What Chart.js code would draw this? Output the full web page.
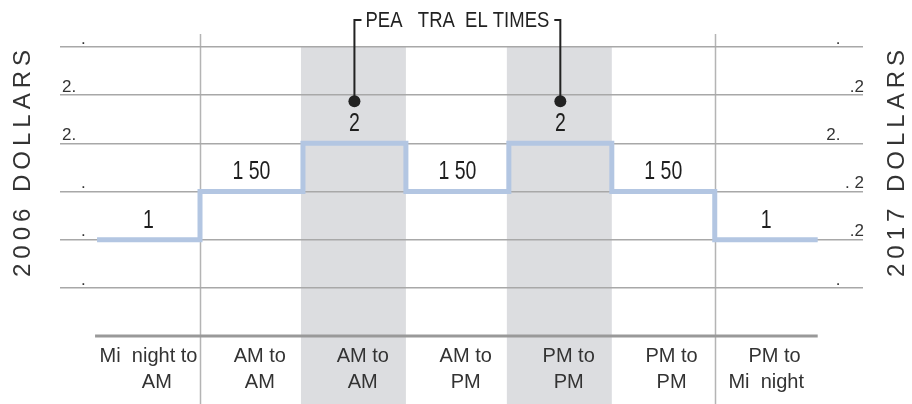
<!DOCTYPE html>
<html>
<head>
<meta charset="utf-8">
<script src="https://cdn.jsdelivr.net/npm/chart.js@4.4.1/dist/chart.umd.min.js"></script>
<style>
  html, body { margin: 0; padding: 0; background: #fff; }
  #wrap { width: 912px; height: 404px; }
</style>
</head>
<body>
<div id="wrap"><canvas id="c" width="912" height="404"></canvas></div>
<script>
// time blocks (glyphs missing in the source are kept as gaps)
const periods = [
  ["Mi  night to", "   AM"],
  ["   AM to", "   AM"],
  ["   AM to", "   AM"],
  ["   AM to", "   PM"],
  ["   PM to", "   PM"],
  ["   PM to", "   PM"],
  ["   PM to", "Mi  night"]
];
const fares = [1, 1.5, 2, 1.5, 2, 1.5, 1];
const fareLabels = ["1", "1 50", "2", "1 50", "2", "1 50", "1"];
const peakPeriods = [2, 4];
const dividerAt = [1, 6];
const peakTitle = "PEA   TRA  EL TIMES";

const dollarTicks = [0.5, 1, 1.5, 2, 2.5, 3];
const labels2006 = ["    .", "    .", "    .", "2.", "2.", "    ."];
const labels2017 = [".     ", ".2", ". 2", "2.     ", ".2", ".     "];
const title2006 = "2006 DOLLARS";
const title2017 = "2017 DOLLARS";

// step points: each fare holds over its whole block
const stepPoints = fares.map((v, i) => ({ x: i, y: v }));
stepPoints.push({ x: fares.length, y: fares[fares.length - 1] });

const SANS = "'Liberation Sans', Arial, sans-serif";

// narrow text: no condensed face is installed, so squeeze horizontally
function narrowText(ctx, text, cx, cy, sx) {
  ctx.save();
  ctx.translate(cx, cy);
  ctx.scale(sx, 1);
  ctx.fillText(text, 0, 0);
  ctx.restore();
}

const decor = {
  id: "decor",
  beforeDraw(chart) {
    const { ctx, chartArea, scales: { x } } = chart;
    ctx.save();
    ctx.fillStyle = "#fff";
    ctx.fillRect(0, 0, chart.width, chart.height);
    // peak shading
    ctx.fillStyle = "#dcdde0";
    peakPeriods.forEach(p => {
      const x0 = x.getPixelForValue(p) - 2;
      const x1 = x.getPixelForValue(p + 1);
      ctx.fillRect(x0, chartArea.top, x1 - x0, chart.height - chartArea.top);
    });
    // dividers
    ctx.strokeStyle = "#b4b4b4";
    ctx.lineWidth = 1.5;
    dividerAt.forEach(d => {
      const px = Math.round(x.getPixelForValue(d)) + 0.5;
      ctx.beginPath();
      ctx.moveTo(px, chartArea.top - 13);
      ctx.lineTo(px, chart.height);
      ctx.stroke();
    });
    ctx.restore();
  },
  beforeDatasetsDraw(chart) {
    const { ctx, scales: { x, y } } = chart;
    ctx.save();
    ctx.strokeStyle = "#999";
    ctx.lineWidth = 3;
    const by = y.getPixelForValue(0);
    ctx.beginPath();
    ctx.moveTo(x.getPixelForValue(0) - 2, by);
    ctx.lineTo(x.getPixelForValue(fares.length), by);
    ctx.stroke();
    ctx.restore();
  },
  afterDraw(chart) {
    const { ctx, scales: { x, y } } = chart;
    ctx.save();
    // fare labels
    ctx.fillStyle = "#1e1e1e";
    ctx.font = "25px " + SANS;
    ctx.textAlign = "center";
    ctx.textBaseline = "middle";
    fares.forEach((v, i) => {
      narrowText(ctx, fareLabels[i], x.getPixelForValue(i + 0.5), y.getPixelForValue(v) - 19, 0.78);
    });

    // peak bracket
    const dots = peakPeriods.map(p => ({
      px: x.getPixelForValue(p + 0.5),
      py: y.getPixelForValue(fares[p]) - 42
    }));
    const top = 20;
    ctx.font = "22px " + SANS;
    const sx = 0.84;
    const mid = (dots[0].px + dots[1].px) / 2;
    const w = ctx.measureText(peakTitle).width * sx;
    ctx.fillStyle = "#222";
    narrowText(ctx, peakTitle, mid, top + 1, sx);
    ctx.strokeStyle = "#222";
    ctx.lineWidth = 2;
    ctx.beginPath();
    ctx.moveTo(dots[0].px, dots[0].py);
    ctx.lineTo(dots[0].px, top);
    ctx.lineTo(mid - w / 2 - 4, top);
    ctx.moveTo(mid + w / 2 + 5, top);
    ctx.lineTo(dots[1].px, top);
    ctx.lineTo(dots[1].px, dots[1].py);
    ctx.stroke();
    dots.forEach(d => {
      ctx.beginPath();
      ctx.arc(d.px, d.py, 6, 0, Math.PI * 2);
      ctx.fill();
    });

    // axis titles
    ctx.font = "24px " + SANS;
    ctx.fillStyle = "#333";
    ctx.letterSpacing = "5px";
    [[23, title2006], [897, title2017]].forEach(([tx, t]) => {
      ctx.save();
      ctx.translate(tx, 163);
      ctx.rotate(-Math.PI / 2);
      ctx.fillText(t, 2, 0);
      ctx.restore();
    });
    ctx.restore();
  }
};

new Chart(document.getElementById("c"), {
  type: "line",
  data: {
    datasets: [{
      data: stepPoints,
      stepped: "before",
      borderColor: "#b3c6e2",
      borderWidth: 5,
      pointRadius: 0,
      borderJoinStyle: "miter",
      borderCapStyle: "butt",
      fill: false
    }]
  },
  options: {
    responsive: false,
    animation: false,
    devicePixelRatio: 1,
    layout: { padding: { top: 47, left: 56, right: 47, bottom: 2 } },
    plugins: { legend: { display: false }, tooltip: { enabled: false } },
    scales: {
      x: {
        type: "linear",
        min: -0.36,
        max: 7.44,
        afterBuildTicks: axis => {
          axis.ticks = periods.map((p, i) => ({ value: i + 0.5 }));
        },
        grid: { display: false, drawTicks: false },
        border: { display: false },
        ticks: {
          padding: 7,
          color: "#333",
          font: { family: SANS, size: 20, lineHeight: 1.3 },
          maxRotation: 0,
          autoSkip: false,
          callback: (v) => {
            const i = Math.floor(v);
            return periods[i] || "";
          }
        }
      },
      y: {
        position: "left",
        min: 0,
        max: 3,
        grid: {
          drawTicks: false,
          lineWidth: 1.5,
          color: c => (c.tick && c.tick.value === 0 ? "rgba(0,0,0,0)" : "#a8a8a8")
        },
        border: { display: false },
        ticks: {
          stepSize: 0.5,
          mirror: true,
          padding: 2,
          labelOffset: -8,
          color: "#333",
          font: { family: SANS, size: 17 },
          callback: v => {
            const i = dollarTicks.indexOf(v);
            return i < 0 ? "" : labels2006[i];
          }
        }
      },
      y2: {
        position: "right",
        min: 0,
        max: 3,
        grid: { display: false, drawTicks: false },
        border: { display: false },
        ticks: {
          stepSize: 0.5,
          mirror: true,
          padding: 1,
          labelOffset: -8,
          color: "#333",
          font: { family: SANS, size: 17 },
          callback: v => {
            const i = dollarTicks.indexOf(v);
            return i < 0 ? "" : labels2017[i];
          }
        }
      }
    }
  },
  plugins: [decor]
});
</script>
</body>
</html>
